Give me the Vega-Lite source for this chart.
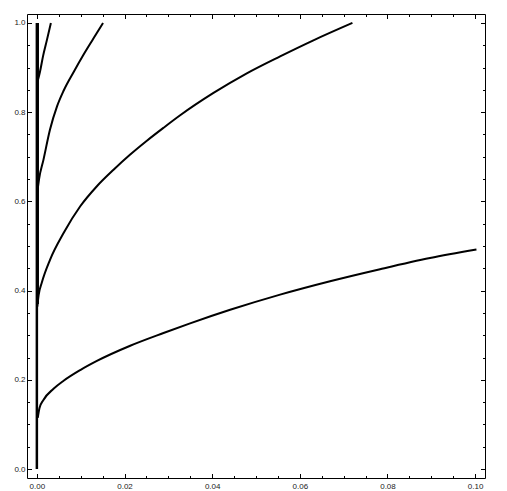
{
  "$schema": "https://vega.github.io/schema/vega-lite/v6.json",
  "width": 458,
  "height": 464,
  "autosize": {"type": "none"},
  "padding": {"left": 27, "top": 14, "right": 22, "bottom": 13},
  "background": "white",
  "config": {
    "view": {"stroke": "black", "strokeWidth": 1},
    "axis": {
      "grid": false,
      "domain": false,
      "title": null,
      "tickColor": "black",
      "tickWidth": 1,
      "labelFont": "Liberation Sans",
      "labelFontSize": 8,
      "labelColor": "#222222"
    }
  },
  "datasets": {
    "curves": [
      {"series": "c1", "x": 0.0002, "y": 0.115},
      {"series": "c1", "x": 0.0006, "y": 0.137},
      {"series": "c1", "x": 0.0015, "y": 0.155},
      {"series": "c1", "x": 0.0038, "y": 0.18},
      {"series": "c1", "x": 0.0061, "y": 0.198},
      {"series": "c1", "x": 0.0099, "y": 0.222},
      {"series": "c1", "x": 0.0137, "y": 0.2425},
      {"series": "c1", "x": 0.0213, "y": 0.2765},
      {"series": "c1", "x": 0.0289, "y": 0.305},
      {"series": "c1", "x": 0.0348, "y": 0.326},
      {"series": "c1", "x": 0.0441, "y": 0.357},
      {"series": "c1", "x": 0.0555, "y": 0.391},
      {"series": "c1", "x": 0.0669, "y": 0.421},
      {"series": "c1", "x": 0.0783, "y": 0.448},
      {"series": "c1", "x": 0.0897, "y": 0.473},
      {"series": "c1", "x": 0.1003, "y": 0.492},
      {"series": "c2", "x": 0.0001, "y": 0.364},
      {"series": "c2", "x": 0.0004, "y": 0.39},
      {"series": "c2", "x": 0.0011, "y": 0.417},
      {"series": "c2", "x": 0.003, "y": 0.469},
      {"series": "c2", "x": 0.0061, "y": 0.529},
      {"series": "c2", "x": 0.0099, "y": 0.589},
      {"series": "c2", "x": 0.0137, "y": 0.634},
      {"series": "c2", "x": 0.0175, "y": 0.671},
      {"series": "c2", "x": 0.0213, "y": 0.705},
      {"series": "c2", "x": 0.0251, "y": 0.736},
      {"series": "c2", "x": 0.0289, "y": 0.765},
      {"series": "c2", "x": 0.0327, "y": 0.793},
      {"series": "c2", "x": 0.0403, "y": 0.843},
      {"series": "c2", "x": 0.0479, "y": 0.887},
      {"series": "c2", "x": 0.0555, "y": 0.925},
      {"series": "c2", "x": 0.0631, "y": 0.961},
      {"series": "c2", "x": 0.072, "y": 1.0},
      {"series": "c3", "x": 0.0001, "y": 0.62},
      {"series": "c3", "x": 0.0005, "y": 0.65},
      {"series": "c3", "x": 0.0015, "y": 0.693},
      {"series": "c3", "x": 0.003, "y": 0.761},
      {"series": "c3", "x": 0.0046, "y": 0.813},
      {"series": "c3", "x": 0.0061, "y": 0.848},
      {"series": "c3", "x": 0.0084, "y": 0.89},
      {"series": "c3", "x": 0.0106, "y": 0.928},
      {"series": "c3", "x": 0.0129, "y": 0.965},
      {"series": "c3", "x": 0.0151, "y": 1.0},
      {"series": "c4", "x": 0.0002, "y": 0.87},
      {"series": "c4", "x": 0.0007, "y": 0.89},
      {"series": "c4", "x": 0.0014, "y": 0.925},
      {"series": "c4", "x": 0.0023, "y": 0.962},
      {"series": "c4", "x": 0.0032, "y": 1.0}
    ],
    "vertical": [
      {"series": "v1", "x": 0.0, "y": 0.0},
      {"series": "v1", "x": 0.0, "y": 1.0},
      {"series": "v2", "x": 0.0002, "y": 0.37},
      {"series": "v2", "x": 0.0002, "y": 1.0}
    ]
  },
  "encoding": {
    "x": {"field": "x", "type": "quantitative", "scale": {"domain": [-0.00225, 0.10225], "nice": false, "zero": false}},
    "y": {"field": "y", "type": "quantitative", "scale": {"domain": [-0.02, 1.02], "nice": false, "zero": false}},
    "detail": {"field": "series"},
    "order": {"field": "y", "type": "quantitative"}
  },
  "layer": [
    {
      "data": {"name": "curves"},
      "transform": [{"filter": "datum.series == 'c1' || datum.series == 'c2'"}],
      "mark": {"type": "line", "color": "black", "strokeWidth": 2, "interpolate": "monotone"},
      "encoding": {
        "x": {"field": "x", "type": "quantitative", "axis": {"orient": "bottom", "values": [0, 0.02, 0.04, 0.06, 0.08, 0.1], "format": ".2f", "tickSize": -4.5, "labelPadding": 8.5}},
        "y": {"field": "y", "type": "quantitative", "axis": {"orient": "left", "values": [0, 0.2, 0.4, 0.6, 0.8, 1.0], "format": ".1f", "tickSize": -4.5, "labelPadding": 6.5}}
      }
    },
    {
      "data": {"name": "vertical"},
      "mark": {"type": "line", "color": "black", "strokeWidth": 2.5},
      "encoding": {
        "x": {"field": "x", "type": "quantitative", "axis": {"orient": "bottom", "values": [0.005, 0.01, 0.015, 0.025, 0.03, 0.035, 0.045, 0.05, 0.055, 0.065, 0.07, 0.075, 0.085, 0.09, 0.095, 0.1], "labels": false, "tickSize": -2.5}},
        "y": {"field": "y", "type": "quantitative", "axis": {"orient": "left", "values": [0.05, 0.1, 0.15, 0.25, 0.3, 0.35, 0.45, 0.5, 0.55, 0.65, 0.7, 0.75, 0.85, 0.9, 0.95], "labels": false, "tickSize": -2.5}}
      }
    },
    {
      "data": {"name": "curves"},
      "transform": [{"filter": "datum.series == 'c3'"}],
      "mark": {"type": "line", "color": "black", "strokeWidth": 2, "interpolate": "monotone"},
      "encoding": {
        "x": {"field": "x", "type": "quantitative", "axis": {"orient": "top", "values": [0, 0.02, 0.04, 0.06, 0.08, 0.1], "labels": false, "tickSize": -4.5}},
        "y": {"field": "y", "type": "quantitative", "axis": {"orient": "right", "values": [0, 0.2, 0.4, 0.6, 0.8, 1.0], "labels": false, "tickSize": -4.5}}
      }
    },
    {
      "data": {"name": "curves"},
      "transform": [{"filter": "datum.series == 'c4'"}],
      "mark": {"type": "line", "color": "black", "strokeWidth": 2, "interpolate": "monotone"},
      "encoding": {
        "x": {"field": "x", "type": "quantitative", "axis": {"orient": "top", "values": [0.005, 0.01, 0.015, 0.025, 0.03, 0.035, 0.045, 0.05, 0.055, 0.065, 0.07, 0.075, 0.085, 0.09, 0.095], "labels": false, "tickSize": -2.5}},
        "y": {"field": "y", "type": "quantitative", "axis": {"orient": "right", "values": [0.05, 0.1, 0.15, 0.25, 0.3, 0.35, 0.45, 0.5, 0.55, 0.65, 0.7, 0.75, 0.85, 0.9, 0.95], "labels": false, "tickSize": -2.5}}
      }
    }
  ],
  "resolve": {"axis": {"x": "independent", "y": "independent"}}
}
